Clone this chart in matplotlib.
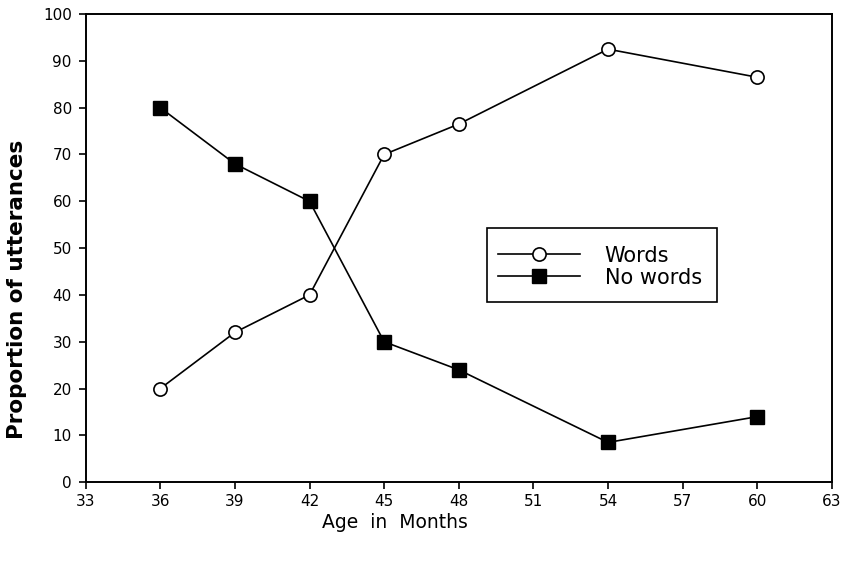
import matplotlib
matplotlib.use("Agg")
import matplotlib.pyplot as plt
from matplotlib.patches import Rectangle

# values
ages = [36, 39, 42, 45, 48, 54, 60]
words = [20, 32, 40, 70, 76.5, 92.5, 86.5]
no_words = [80, 68, 60, 30, 24, 8.5, 14]
x_ticks = list(range(33, 64, 3))
y_ticks = list(range(0, 101, 10))

plt.rcParams["font.family"] = ["DejaVu Sans"]

fig = plt.figure(figsize=(8.48, 5.62), dpi=100)
ax = fig.add_axes([0.101, 0.142, 0.880, 0.833])

ax.plot(ages, words, color="black", lw=1.2, marker="o", ms=9.5,
        mfc="white", mec="black", mew=1.2, label="Words")
ax.plot(ages, no_words, color="black", lw=1.2, marker="s", ms=9.5,
        mfc="black", mec="black", label="No words")

ax.set_xlim(33, 63)
ax.set_ylim(0, 100)
ax.set_xticks(x_ticks)
ax.set_yticks(y_ticks)
ax.tick_params(direction="out", length=5, width=1.2, labelsize=11, color="black")
ax.tick_params(axis="y", pad=5)
for s in ax.spines.values():
    s.set_linewidth(1.4)

# axis titles sit off-centre in the original, so placed by hand
fig.text(0.020, 0.485, "Proportion of utterances", rotation=90, fontsize=15.5,
         fontweight="bold", ha="center", va="center")
fig.text(0.466, 0.071, "Age  in  Months", fontsize=13.5, ha="center", va="center")

# legend box is taller than matplotlib's default padding gives, so draw frame separately
ax.add_patch(Rectangle((0.5375, 0.3846), 0.3085, 0.158, transform=ax.transAxes,
                       fill=False, edgecolor="black", lw=1.2, zorder=5))
ax.legend(loc="center left", bbox_to_anchor=(0.539, 0.4605), frameon=False,
          fontsize=15, handlelength=3.9, borderpad=0.5, labelspacing=0.1,
          handletextpad=1.2, borderaxespad=0)

fig.savefig("out.png", dpi=100)
